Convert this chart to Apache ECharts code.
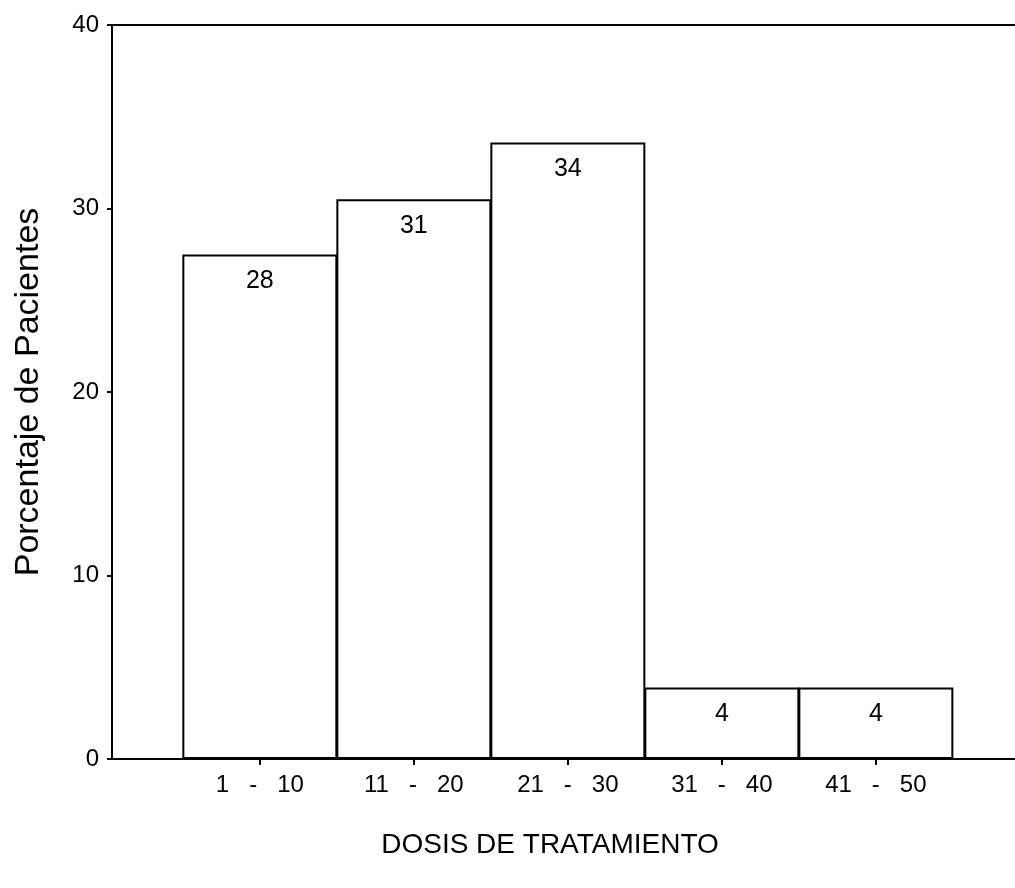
<!DOCTYPE html>
<html>
<head>
<meta charset="utf-8">
<script src="https://cdn.jsdelivr.net/npm/echarts@6/dist/echarts.min.js"></script>
<style>
  html, body { margin: 0; padding: 0; background: #fff; }
  #chart { width: 1015px; height: 888px; }
</style>
</head>
<body>
<div id="chart"></div>
<script>
// Data
const categories = ['1   -   10', '11   -   20', '21   -   30', '31   -   40', '41   -   50'];
const positions = [1, 2, 3, 4, 5];
const values = [27.5, 30.5, 33.6, 3.9, 3.9];
const yTicks = [0, 10, 20, 30, 40];
const yTitle = 'Porcentaje de Pacientes';
const xTitle = 'DOSIS DE TRATAMIENTO';

const FONT = '"Liberation Sans", Arial, Helvetica, sans-serif';
const chart = echarts.init(document.getElementById('chart'), null, { renderer: 'canvas' });

const seriesData = positions.map((p, i) => [p, values[i]]);

chart.setOption({
  animation: false,
  backgroundColor: '#ffffff',
  grid: {
    left: 112, top: 25, bottom: 129, right: -3,
    outerBoundsMode: 'none',
    containLabel: false,
    show: true, borderColor: '#000', borderWidth: 2, backgroundColor: 'transparent'
  },
  xAxis: {
    type: 'value',
    min: 0.04,
    max: 5.923,
    splitLine: { show: false },
    axisLine: { show: true, lineStyle: { color: '#000', width: 2 } },
    axisTick: {
      show: true, customValues: positions, length: 6, inside: false,
      lineStyle: { color: '#000', width: 2 }
    },
    axisLabel: {
      customValues: positions,
      margin: 14,
      color: '#000',
      fontFamily: FONT,
      fontSize: 24,
      formatter: function (v) {
        const idx = positions.indexOf(Math.round(v));
        return idx >= 0 ? categories[idx] : '';
      }
    }
  },
  yAxis: {
    type: 'value',
    min: 0,
    max: 40,
    interval: 10,
    splitLine: { show: false },
    axisLine: { show: true, lineStyle: { color: '#000', width: 2 } },
    axisTick: { show: true, length: 5, lineStyle: { color: '#000', width: 2 } },
    axisLabel: {
      margin: 13, color: '#000', fontFamily: FONT, fontSize: 24,
      formatter: function (v) { return yTicks.indexOf(v) >= 0 ? String(v) : ''; }
    },
    name: yTitle,
    nameLocation: 'middle',
    nameRotate: 90,
    nameGap: 66,
    nameTextStyle: { color: '#000', fontFamily: FONT, fontSize: 34 }
  },
  graphic: [{
    type: 'text',
    x: 550, y: 845,
    style: {
      text: xTitle,
      fill: '#000',
      font: '28px ' + FONT,
      textAlign: 'center',
      textVerticalAlign: 'middle'
    }
  }],
  series: [{
    type: 'bar',
    data: seriesData,
    barWidth: 155,
    itemStyle: { color: '#ffffff', borderColor: '#000', borderWidth: 2 },
    label: {
      show: true,
      position: 'insideTop',
      distance: 14,
      color: '#000',
      fontFamily: FONT,
      fontSize: 25,
      formatter: function (p) { return String(Math.round(p.value[1])); }
    }
  }]
});
</script>
</body>
</html>
